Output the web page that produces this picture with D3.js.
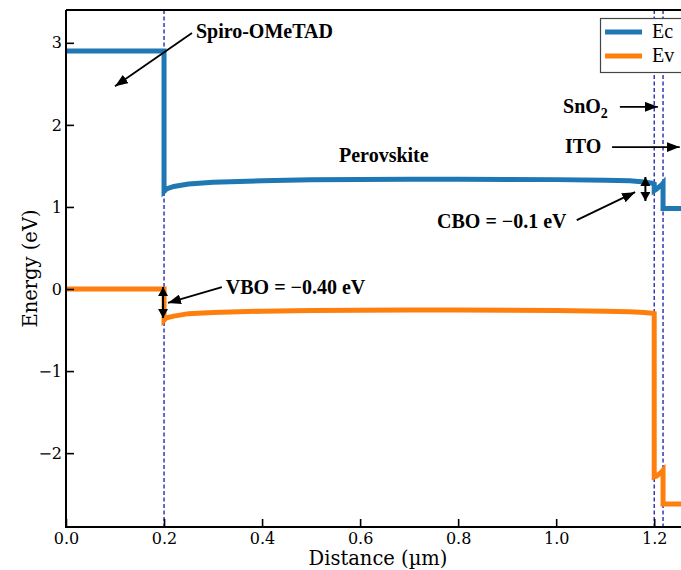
<!DOCTYPE html>
<html><head><meta charset="utf-8">
<script src="https://cdn.jsdelivr.net/npm/d3@7"></script>
<style>body{margin:0;background:#fff}svg{display:block}</style>
</head><body>
<script>
// ---- data ----
const ecX = [0, 0.2, 0.2, 0.205, 0.22, 0.25, 0.3, 0.4, 0.5, 0.6, 0.7, 0.8, 0.9, 1.0, 1.1, 1.15, 1.18, 1.195, 1.2, 1.2, 1.205, 1.215, 1.218, 1.218, 1.3];
const ecY = [2.9, 2.9, 1.19, 1.22, 1.25, 1.28, 1.30, 1.32, 1.33, 1.335, 1.338, 1.338, 1.336, 1.333, 1.325, 1.318, 1.305, 1.29, 1.28, 1.20, 1.22, 1.27, 1.29, 0.98, 0.98];
const evX = [0, 0.2, 0.2, 0.205, 0.22, 0.25, 0.3, 0.4, 0.5, 0.6, 0.7, 0.8, 0.9, 1.0, 1.1, 1.15, 1.18, 1.195, 1.2, 1.2, 1.205, 1.215, 1.218, 1.218, 1.3];
const evY = [0, 0, -0.38, -0.35, -0.33, -0.30, -0.285, -0.27, -0.262, -0.258, -0.256, -0.256, -0.258, -0.262, -0.27, -0.277, -0.285, -0.295, -0.30, -2.29, -2.28, -2.23, -2.21, -2.62, -2.62];
const interfaces = [0.2, 1.2, 1.218];
const xTicks = [0, 0.2, 0.4, 0.6, 0.8, 1.0, 1.2];
const yTicks = [-2, -1, 0, 1, 2, 3];
const seriesNames = ["Ec", "Ev"];
const seriesColors = ["#1f77b4", "#ff7f0e"];
// annotations in data units
const labels = [
  {t: "Spiro-OMeTAD", x: 0.265, y: 3.06},
  {t: "Perovskite", x: 0.557, y: 1.55},
  {t: "SnO", sub: "2", x: 1.014, y: 2.145},
  {t: "ITO", x: 1.018, y: 1.657},
  {t: "CBO = \u22120.1 eV", x: 0.757, y: 0.743},
  {t: "VBO = \u22120.40 eV", x: 0.326, y: -0.06}
];
const arrows = [
  {x1: 0.257, y1: 3.12, x2: 0.10, y2: 2.47},
  {x1: 1.13, y1: 2.22, x2: 1.2075, y2: 2.22},
  {x1: 1.114, y1: 1.73, x2: 1.252, y2: 1.73},
  {x1: 1.042, y1: 0.84, x2: 1.161, y2: 1.18},
  {x1: 0.318, y1: 0.024, x2: 0.208, y2: -0.17}
];
const dblArrows = [
  {x: 1.182, y1: 1.365, y2: 1.072},
  {x: 0.198, y1: 0.024, y2: -0.353}
];

// ---- layout ----
const W = 681, H = 570;
const L = 66, T = 10, R = 690, B = 527;
const x = d3.scaleLinear().domain([0, 1.273]).range([L, R]);
const y = d3.scaleLinear().domain([-2.9, 3.4]).range([B, T]);

const svg = d3.select("body").append("svg").attr("width", W).attr("height", H);
const defs = svg.append("defs");
defs.append("clipPath").attr("id", "clip").append("rect")
  .attr("x", L).attr("y", T).attr("width", R - L).attr("height", B - T);
function marker(id, len, wid) {
  defs.append("marker").attr("id", id).attr("viewBox", `0 0 ${len} ${wid}`)
    .attr("refX", len).attr("refY", wid / 2).attr("markerWidth", len).attr("markerHeight", wid)
    .attr("markerUnits", "userSpaceOnUse").attr("orient", "auto-start-reverse")
    .append("path").attr("d", `M0,0 L${len},${wid / 2} L0,${wid} Z`).attr("fill", "#000");
}
marker("ah", 13, 10);
marker("ah2", 9, 10);

// dashed interfaces
svg.append("g").selectAll("line").data(interfaces).join("line")
  .attr("x1", d => x(d)).attr("x2", d => x(d)).attr("y1", T).attr("y2", B)
  .attr("stroke", "#1a1aaa").attr("stroke-width", 1.3).attr("stroke-dasharray", "4,2.5");

// bands
const line = d3.line().x(d => x(d[0])).y(d => y(d[1]));
const gLines = svg.append("g").attr("clip-path", "url(#clip)");
[[ecX, ecY], [evX, evY]].forEach((s, i) => {
  gLines.append("path").datum(s[0].map((v, j) => [v, s[1][j]]))
    .attr("d", line).attr("fill", "none").attr("stroke", seriesColors[i])
    .attr("stroke-width", 5).attr("stroke-linejoin", "miter");
});

// axes
const tickFont = "DejaVu Serif";
const xAxis = svg.append("g").attr("transform", `translate(0,${B})`)
  .call(d3.axisBottom(x).tickValues(xTicks).tickFormat(d3.format(".1f")).tickSizeInner(-8).tickSizeOuter(0).tickPadding(6));
const yAxis = svg.append("g").attr("transform", `translate(${L},0)`)
  .call(d3.axisLeft(y).tickValues(yTicks).tickFormat(d3.format("d")).tickSizeInner(-8).tickSizeOuter(0).tickPadding(4));
[xAxis, yAxis].forEach(g => {
  g.select(".domain").remove();
  g.selectAll(".tick line").attr("stroke", "#000").attr("stroke-width", 1.6);
  g.selectAll(".tick text").attr("font-family", tickFont).attr("font-size", 16).attr("fill", "#000");
});
xAxis.selectAll(".tick text").attr("dy", "0.71em").attr("y", 6);
yAxis.selectAll(".tick text").attr("x", -4);
// spines
svg.append("path").attr("d", `M${L},${T} L${L},${B} L${R},${B} M${L},${T} L${R},${T}`)
  .attr("fill", "none").attr("stroke", "#000").attr("stroke-width", 2);

// axis labels
svg.append("text").attr("x", (L + R) / 2).attr("y", 565).attr("text-anchor", "middle")
  .attr("font-family", tickFont).attr("font-size", 19.5).attr("fill", "#000").text("Distance (\u00b5m)");
svg.append("text").attr("transform", `translate(37,${(T + B) / 2}) rotate(-90)`).attr("text-anchor", "middle")
  .attr("font-family", tickFont).attr("font-size", 19.5).attr("fill", "#000").text("Energy (eV)");

// annotations
const annFont = "Liberation Serif";
labels.forEach(d => {
  const t = svg.append("text").attr("x", x(d.x)).attr("y", y(d.y)).attr("fill", "#000")
    .attr("font-family", annFont).attr("font-weight", "bold").attr("font-size", 20).text(d.t);
  if (d.sub) t.append("tspan").attr("font-size", 14).attr("dy", 5).text(d.sub);
});
svg.append("g").selectAll("line").data(arrows).join("line")
  .attr("x1", d => x(d.x1)).attr("y1", d => y(d.y1)).attr("x2", d => x(d.x2)).attr("y2", d => y(d.y2))
  .attr("stroke", "#000").attr("stroke-width", 1.8).attr("marker-end", "url(#ah)");
svg.append("g").selectAll("line").data(dblArrows).join("line")
  .attr("x1", d => x(d.x)).attr("y1", d => y(d.y1)).attr("x2", d => x(d.x)).attr("y2", d => y(d.y2))
  .attr("stroke", "#000").attr("stroke-width", 2).attr("marker-end", "url(#ah2)").attr("marker-start", "url(#ah2)");

// legend
const lg = svg.append("g");
lg.append("rect").attr("x", 600.5).attr("y", 18.5).attr("width", 82).attr("height", 54)
  .attr("fill", "#fff").attr("stroke", "#444").attr("stroke-width", 1.2);
seriesNames.forEach((n, i) => {
  const yy = 32 + i * 24;
  lg.append("line").attr("x1", 605).attr("x2", 642).attr("y1", yy).attr("y2", yy)
    .attr("stroke", seriesColors[i]).attr("stroke-width", 5);
  lg.append("text").attr("x", 652).attr("y", yy + 6).attr("font-family", annFont).attr("fill", "#000")
    .attr("font-size", 20).text(n);
});
</script>
</body></html>
